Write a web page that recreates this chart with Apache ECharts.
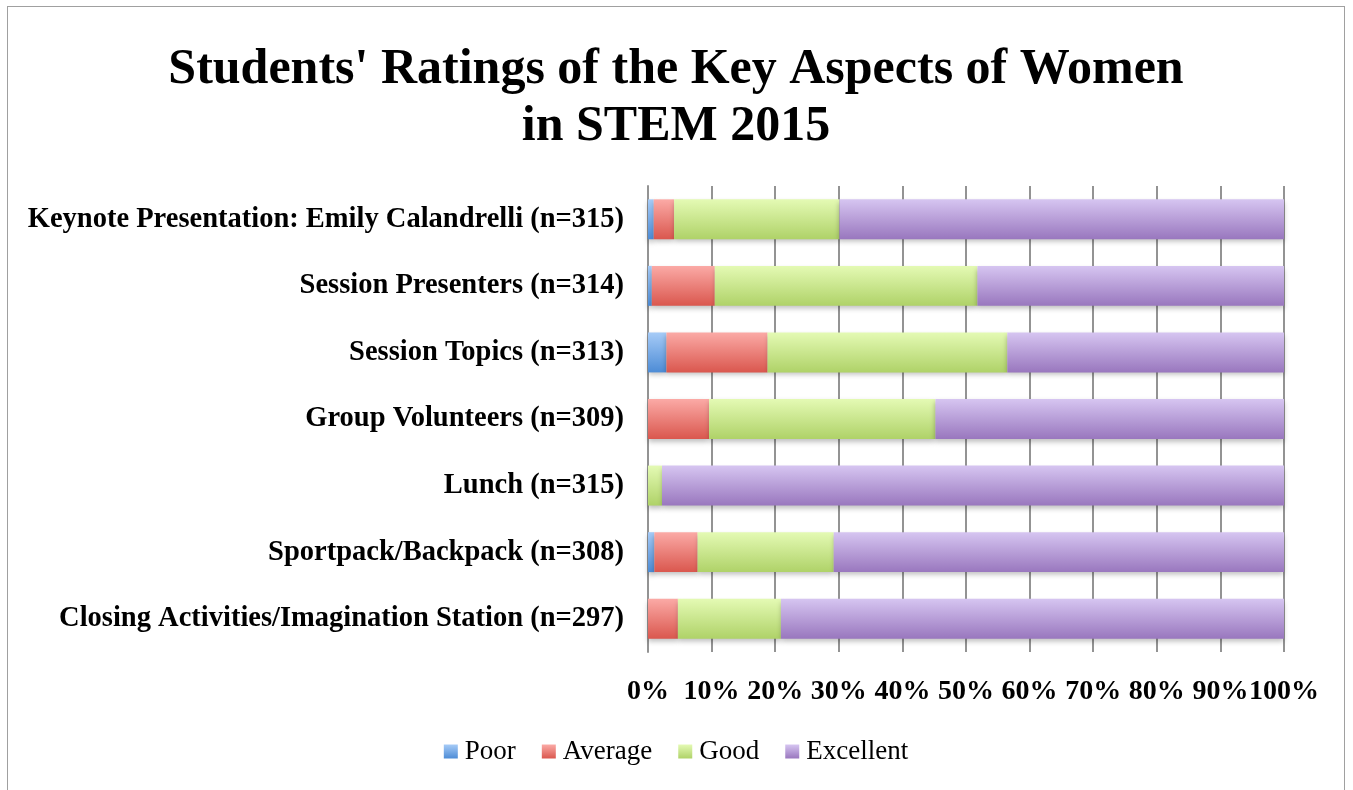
<!DOCTYPE html>
<html>
<head>
<meta charset="utf-8">
<script src="https://cdn.jsdelivr.net/npm/echarts@6/dist/echarts.min.js"></script>
<style>
html,body{margin:0;padding:0;background:#fff;}
#chart{position:absolute;left:7px;top:6px;width:1338px;height:800px;border:1px solid #a0a0a0;box-sizing:border-box;}
</style>
</head>
<body>
<div id="chart"></div>
<script>
// categories, bottom to top (category axis on y draws first item at the bottom)
var categories = [
	'Closing Activities/Imagination Station (n=297)',
	'Sportpack/Backpack (n=308)',
	'Lunch (n=315)',
	'Group Volunteers (n=309)',
	'Session Topics (n=313)',
	'Session Presenters (n=314)',
	'Keynote Presentation: Emily Calandrelli (n=315)'
];
// percentages
var poor      = [0,    1.0, 0,    0,    2.9,  0.6,  0.9];
var average   = [4.7,  6.8, 0,    9.6,  15.9, 9.9,  3.2];
var good      = [16.2, 21.4, 2.2, 35.6, 37.7, 41.3, 26.0];
var excellent = [79.1, 70.8, 97.8, 54.8, 43.5, 48.2, 69.9];
var tickLabels = ['0%','10%','20%','30%','40%','50%','60%','70%','80%','90%','100%'];

var font = '"Liberation Serif", "DejaVu Serif", serif';

function grad(top, bottom){
	return new echarts.graphic.LinearGradient(0, 0, 0, 1, [
		{offset: 0, color: top},
		{offset: 1, color: bottom}
	]);
}
function barSeries(name, data, top, bottom){
	return {
		name: name,
		type: 'bar',
		stack: 'total',
		barWidth: '60%',
		data: data,
		itemStyle: {
			color: grad(top, bottom),
			shadowColor: 'rgba(0,0,0,0.25)',
			shadowBlur: 5,
			shadowOffsetY: 3
		}
	};
}

var chart = echarts.init(document.getElementById('chart'));
var option = {
	animation: false,
	title: {
		text: "Students' Ratings of the Key Aspects of Women\nin STEM 2015",
		left: 'center',
		top: 30,
		textStyle: {
			fontFamily: font,
			fontSize: 50,
			fontWeight: 'bold',
			color: '#000',
			lineHeight: 57
		}
	},
	legend: {
		top: 726,
		left: 'center',
		icon: 'rect',
		itemWidth: 14,
		itemHeight: 14,
		itemGap: 26,
		selectedMode: false,
		textStyle: {fontFamily: font, fontSize: 27, color: '#000', padding: [0, 0, 0, 2]},
		data: ['Poor', 'Average', 'Good', 'Excellent']
	},
	grid: {
		left: 640,
		right: 60,
		top: 179,
		bottom: 153
	},
	xAxis: {
		type: 'value',
		min: 0,
		max: 100,
		interval: 10,
		axisLine: {show: false},
		axisTick: {show: false},
		splitLine: {lineStyle: {color: '#939393', width: 2}},
		axisLabel: {
			margin: 26,
			fontFamily: font,
			fontSize: 28,
			fontWeight: 'bold',
			color: '#000',
			showMinLabel: true,
			showMaxLabel: true,
			hideOverlap: false,
			formatter: function(v){ return tickLabels[v / 10]; }
		}
	},
	yAxis: {
		type: 'category',
		data: categories,
		axisLine: {show: true, lineStyle: {color: '#939393', width: 2}},
		axisTick: {show: false},
		axisLabel: {
			margin: 24,
			fontFamily: font,
			fontSize: 28.5,
			fontWeight: 'bold',
			color: '#000'
		}
	},
	series: [
		barSeries('Poor', poor, '#a6cbf7', '#4d8cd6'),
		barSeries('Average', average, '#fbaaa6', '#da574e'),
		barSeries('Good', good, '#e4fab4', '#afd268'),
		barSeries('Excellent', excellent, '#d6c5f1', '#9977be')
	]
};
chart.setOption(option);
</script>
</body>
</html>
